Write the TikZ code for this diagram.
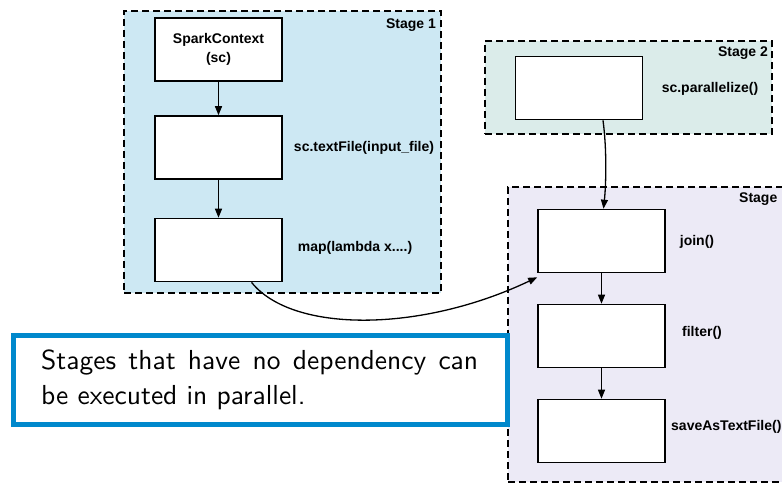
\documentclass[tikz,border=0pt]{standalone}
\usepackage{fontspec}
\newfontfamily\hv{Liberation Sans}
\newfontfamily\lmss{lmsans10-regular.otf}
\usetikzlibrary{arrows.meta}
\definecolor{stageA}{RGB}{205,232,243}
\definecolor{stageB}{RGB}{219,236,234}
\definecolor{stageC}{RGB}{236,234,246}
\definecolor{noteblue}{RGB}{0,136,204}
\begin{document}
\begin{tikzpicture}[x=1pt,y=-1pt,
  stagebox/.style={draw=black, dash pattern=on 7pt off 4pt, line width=1.8pt, inner sep=0pt},
  opbox/.style={draw=black, fill=white, line width=1.6pt, minimum width=127pt, minimum height=63pt, inner sep=0pt,
     font=\hv\bfseries\fontsize{14}{19}\selectfont, align=center},
  lbl/.style={font=\hv\bfseries\fontsize{14}{17}\selectfont, inner sep=0pt},
  flow/.style={draw=black, line width=1.3pt, -{Triangle[length=9pt,width=7pt]}},
  notetxt/.style={font=\lmss\fontsize{27.5}{34}\selectfont, inner sep=0pt, anchor=base west}]
\useasboundingbox (0,0) rectangle (782,486);
\clip (0,0) rectangle (782,486);
% stages
\node[stagebox, fill=stageA, minimum width=317pt, minimum height=282pt] (st1) at (282.5,152) {};
\node[stagebox, fill=stageB, minimum width=287pt, minimum height=93pt] (st2) at (628.5,87.5) {};
\node[stagebox, fill=stageC, minimum width=287pt, minimum height=295pt] (st3) at (651.5,334.5) {};
\node[lbl, anchor=east] (st1l) at (436,25) {Stage 1};
\node[lbl, anchor=east] (st2l) at (768,53) {Stage 2};
\node[lbl, anchor=west] (st3l) at (739,199) {Stage};
% stage 1 ops
\node[opbox] (sc) at (218.5,49.5) {SparkContext\\(sc)};
\node[opbox] (tf) at (218.5,147.5) {};
\node[opbox] (mp) at (218.5,250) {};
\node[lbl] (tfl) at (364,148) {sc.textFile(input\_file)};
\node[lbl] (mpl) at (355,248) {map(lambda x....)};
% stage 2 ops
\node[opbox] (par) at (579,88) {};
\node[lbl] (parl) at (710,89) {sc.parallelize()};
% stage 3 ops
\node[opbox] (jn) at (601.5,241) {};
\node[opbox] (fl) at (601.5,336) {};
\node[opbox] (sv) at (601.5,431) {};
\node[lbl] (jnl) at (697,242) {join()};
\node[lbl] (fll) at (702,333) {filter()};
\node[lbl, anchor=west] (svl) at (671,427) {saveAsTextFile()};
% connectors
\draw[flow] (sc) -- (tf);
\draw[flow] (tf) -- (mp);
\draw[flow] (jn) -- (fl);
\draw[flow] (fl) -- (sv);
\coordinate (mpout) at ([xshift=33pt]mp.south);
\coordinate (jnin) at ([yshift=-4pt]jn.south west);
\draw[flow] (mpout) .. controls (292,333) and (420,333) .. (jnin);
\coordinate (parout) at ([xshift=24pt]par.south);
\coordinate (jntop) at ([xshift=2pt]jn.north);
\draw[flow] (parout) .. controls (607,150) and (606,185) .. (jntop);
% note
\node[draw=noteblue, line width=5pt, fill=white, minimum width=494pt, minimum height=89pt, inner sep=0pt] (note) at (260.5,380) {};
\node[notetxt] (n1) at (41,370) {\makebox[437pt][s]{Stages that have no dependency can}};
\node[notetxt] (n2) at (41,404) {be executed in parallel.};
\end{tikzpicture}
\end{document}
